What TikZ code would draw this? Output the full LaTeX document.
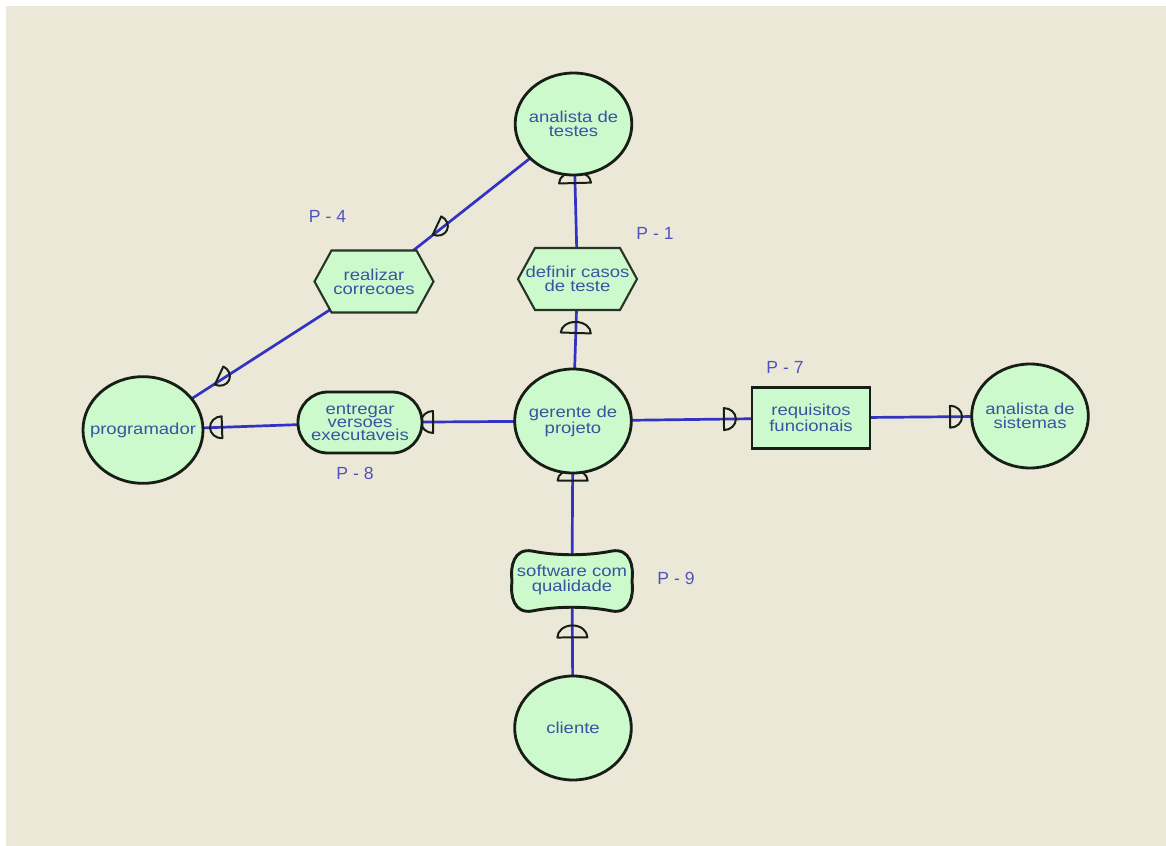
\documentclass[tikz,border=0pt]{standalone}
\usepackage{fontspec}
\setmainfont{Liberation Sans}
\newfontfamily\nodefont[FakeStretch=1.17]{Liberation Sans}
\usetikzlibrary{shapes.geometric}

\definecolor{paper}{RGB}{235,232,216}
\definecolor{leaf}{RGB}{205,250,205}
\definecolor{ink}{RGB}{22,30,22}
\definecolor{wire}{RGB}{50,50,195}
\definecolor{txtblue}{RGB}{55,85,160}
\definecolor{tagblue}{RGB}{82,82,190}

\pgfdeclarelayer{back}
\pgfdeclarelayer{wires}
\pgfsetlayers{back,wires,main}

\tikzset{
  txt/.style={font=\nodefont\fontsize{13.5}{12.2}\selectfont, text=txtblue,
    align=center, inner sep=0pt},
  % the actor's name is set as a centred label so that it never widens the ellipse
  actor/.style={ellipse, draw=ink, line width=2.4pt, fill=leaf, inner sep=0pt,
    minimum width=3.5cm, minimum height=3.12cm,
    label={[txt]center:#1}},
  goalbox/.style={rectangle, rounded corners=0.9cm, draw=ink, line width=2.4pt,
    fill=leaf, txt, minimum width=3.72cm, minimum height=1.83cm},
  resbox/.style={rectangle, draw=ink, line width=2.4pt, fill=leaf, txt,
    minimum width=3.54cm, minimum height=1.83cm},
  hexline/.style={draw={rgb,255:red,40;green,52;blue,36}, line width=1.8pt, fill=leaf},
  softline/.style={draw=ink, line width=2.5pt, fill=leaf},
  wire/.style={draw=wire, line width=2.3pt},
  dline/.style={draw=ink, line width=1.7pt, line join=round},
  tag/.style={font=\fontsize{15}{18}\selectfont, text=tagblue, inner sep=0pt},
  % dependency mark: flat side at the origin, bulge along +x
  pics/dmk/.style args={#1/#2}{code={
    \draw[dline] (0,-#1) -- (0,#1) arc[start angle=90, end angle=-90,
      x radius=#2, y radius=#1] -- cycle;}},
  % the same mark, centred on the origin
  pics/dmkc/.style args={#1/#2}{code={
    \draw[dline] (-#2/2,-#1) -- (-#2/2,#1) arc[start angle=90, end angle=-90,
      x radius=#2, y radius=#1] -- cycle;}},
  pics/hexa/.style={code={
    \draw[hexline] (-59.5,0) -- (-42.5,-31) -- (42.5,-31) -- (59.5,0)
      -- (42.5,31) -- (-42.5,31) -- cycle;}},
  pics/softgoal/.style={code={
    \draw[softline] (-40,-30) .. controls (-15,-25) and (15,-25) .. (40,-30)
      .. controls (58,-33) and (62,-15) .. (60,0)
      .. controls (62,15) and (58,33) .. (40,30)
      .. controls (15,25) and (-15,25) .. (-40,30)
      .. controls (-58,33) and (-62,15) .. (-60,0)
      .. controls (-62,-15) and (-58,-33) .. (-40,-30) -- cycle;}},
  onwire/.style={sloped, allow upside down}
}

\begin{document}
\begin{tikzpicture}[x=0.03cm, y=-0.03cm]
  \useasboundingbox (0,0) rectangle (1166,846);
  \begin{pgfonlayer}{back}
    \fill[white] (0,0) rectangle (1166,846);
    \fill[paper] (6,6) rectangle (1166,846);
  \end{pgfonlayer}

  % actors
  \node[actor={analista de\\testes}, minimum height=3.06cm] (at) at (573.5,124) {};
  \node[actor={gerente de\\projeto}] (gp) at (573,421) {};
  \node[actor=programador, minimum width=3.6cm, minimum height=3.2cm] (pg) at (143,430) {};
  \node[actor={analista de\\sistemas}] (as) at (1030,416) {};
  \node[actor=cliente] (cl) at (573,728) {};

  % goals, task, resource and softgoal
  \pic at (374,281.5) {hexa};
  \node[txt] (rc) at (374,281.5) {realizar\\correcoes};
  \pic at (577.5,279) {hexa};
  \node[txt] (dc) at (577.5,279) {definir casos\\de teste};
  \node[goalbox, font=\nodefont\fontsize{13.5}{10.8}\selectfont] (ev) at (360,422.5)
    {entregar\\versoes\\executaveis};
  \node[resbox] (rf) at (811,418) {requisitos\\funcionais};
  \pic at (572,581) {softgoal};
  \node[txt] (sq) at (572,580) {software com\\qualidade};

  % dependency links
  \begin{pgfonlayer}{wires}
    \draw[wire] (gp.center) -- pic[pos=0.62, onwire]{dmk=15/11} (dc.center);
    \draw[wire] (dc.center) -- pic[pos=0.619, onwire]{dmk=16/11} (at.center);
    \draw[wire] (cl.center) -- pic[pos=0.612, onwire]{dmk=15/12} (sq.center);
    \draw[wire] (sq.center) -- pic[pos=0.625, onwire]{dmk=15/11} (gp.center);
    \draw[wire] (gp.center) -- pic[pos=0.657, onwire]{dmk=11/12} (ev.center);
    \draw[wire] (ev.center) -- pic[pos=0.636, onwire]{dmk=11/12} (pg.center);
    \draw[wire] (gp.center) -- pic[pos=0.634, onwire]{dmk=11/12} (rf.center);
    \draw[wire] (rf.center) -- pic[pos=0.635, onwire]{dmk=11/12} (as.center);
    \draw[wire] (at.center) -- pic[pos=0.659, rotate=-25]{dmkc=10/11} (rc.center);
    \draw[wire] (rc.center) -- pic[pos=0.649, rotate=-25]{dmkc=10/11} (pg.center);
  \end{pgfonlayer}

  % dependency labels
  \node[tag] (p4) at (327.5,216.5) {P - 4};
  \node[tag] (p1) at (655,233) {P - 1};
  \node[tag] (p7) at (785,367) {P - 7};
  \node[tag] (p8) at (355,473.5) {P - 8};
  \node[tag] (p9) at (676,578.5) {P - 9};
\end{tikzpicture}
\end{document}
